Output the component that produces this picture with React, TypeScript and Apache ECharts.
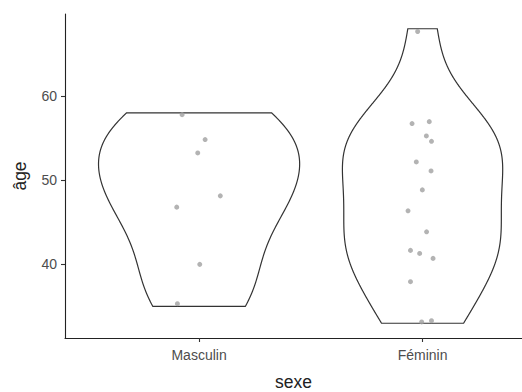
import React, { useEffect, useRef } from "react";
import * as echarts from "echarts";

// Categories
const categories = ["Masculin", "Féminin"];

// Ages (integer values) per group
const ageMasculin = [58, 55, 53, 48, 47, 40, 35];
const ageFeminin = [68, 57, 57, 55, 55, 52, 51, 49, 46, 44, 42, 41, 41, 38, 33, 33];

// Jitter offsets (x in category units, y in years)
const jitterXMasculin = [-0.076, 0.027, -0.006, 0.095, -0.1, 0.003, -0.097];
const jitterYMasculin = [-0.21, -0.17, 0.24, 0.14, -0.2, 0.0, 0.33];
const jitterXFeminin = [-0.022, -0.047, 0.03, 0.017, 0.04, -0.028, 0.038, -0.001, -0.065, 0.018, -0.054, -0.013, 0.047, -0.054, -0.004, 0.04];
const jitterYFeminin = [-0.33, -0.27, -0.04, 0.26, -0.38, 0.17, 0.1, -0.15, 0.36, -0.13, -0.34, 0.3, -0.29, -0.06, 0.16, 0.31];

// Y tick values
const yTicks = [40, 50, 60];

const groups = [ageMasculin, ageFeminin];
const jitterX = [jitterXMasculin, jitterXFeminin];
const jitterY = [jitterYMasculin, jitterYFeminin];

function quantile7(sorted: number[], p: number) {
  const h = (sorted.length - 1) * p;
  const lo = Math.floor(h);
  const hi = Math.ceil(h);
  return sorted[lo] + (h - lo) * (sorted[hi] - sorted[lo]);
}

function bwNrd0(x: number[]) {
  const n = x.length;
  const mean = x.reduce((a, b) => a + b, 0) / n;
  const sd = Math.sqrt(x.reduce((a, b) => a + (b - mean) ** 2, 0) / (n - 1));
  const s = [...x].sort((a, b) => a - b);
  const iqr = quantile7(s, 0.75) - quantile7(s, 0.25);
  let lo = Math.min(sd, iqr / 1.34);
  if (!(lo > 0)) lo = sd || Math.abs(s[0]) || 1;
  return 0.9 * lo * Math.pow(n, -0.2);
}

function kde(x: number[]) {
  const bw = bwNrd0(x);
  const min = Math.min(...x);
  const max = Math.max(...x);
  const N = 512;
  const out: { y: number; d: number }[] = [];
  for (let i = 0; i < N; i++) {
    const y = min + ((max - min) * i) / (N - 1);
    let s = 0;
    for (const v of x) {
      const z = (y - v) / bw;
      s += Math.exp(-0.5 * z * z);
    }
    out.push({ y, d: s / (x.length * bw * Math.sqrt(2 * Math.PI)) });
  }
  return out;
}

const densities = groups.map(kde);
const maxDensity = Math.max(...densities.flatMap((g) => g.map((p) => p.d)));

export default function App() {
  const ref = useRef<HTMLDivElement>(null);
  useEffect(() => {
    if (!ref.current) return;
    const chart = echarts.init(ref.current, undefined, { renderer: "svg" });
    const font = "Liberation Sans, Arial, sans-serif";

    const scatterData: number[][] = [];
    groups.forEach((g, gi) => {
      g.forEach((v, i) => {
        scatterData.push([gi + 1 + jitterX[gi][i], v + jitterY[gi][i]]);
      });
    });

    chart.setOption({
      animation: false,
      grid: {
        left: 65,
        top: 14,
        bottom: 54,
        right: 0,
        containLabel: false,
        outerBoundsMode: "none",
      },
      xAxis: {
        type: "value",
        min: 0.4,
        max: 2.445,
        name: "sexe",
        nameLocation: "middle",
        nameGap: 35,
        nameTextStyle: { fontFamily: font, fontSize: 17.5, color: "#222" },
        splitLine: { show: false },
        axisLine: { show: true, lineStyle: { color: "#222", width: 1.1 } },
        axisTick: { show: true, length: 4, lineStyle: { color: "#333", width: 1.1 }, customValues: [1, 2] },
        axisLabel: {
          customValues: [1, 2],
          formatter: (v: number) => categories[Math.round(v) - 1] ?? "",
          fontFamily: font,
          fontSize: 14,
          color: "#4d4d4d",
          margin: 10,
        },
      },
      yAxis: {
        type: "value",
        min: 31.25,
        max: 69.75,
        name: "âge",
        nameLocation: "middle",
        nameGap: 36,
        nameTextStyle: { fontFamily: font, fontSize: 17.5, color: "#222" },
        splitLine: { show: false },
        axisLine: { show: true, lineStyle: { color: "#222", width: 1.1 } },
        axisTick: { show: true, length: 4, lineStyle: { color: "#333", width: 1.1 }, customValues: yTicks },
        axisLabel: {
          customValues: yTicks,
          fontFamily: font,
          fontSize: 14,
          color: "#4d4d4d",
          margin: 8,
        },
      },
      series: [
        {
          type: "custom",
          z: 1,
          clip: false,
          data: groups.map((g, gi) => [gi + 1, Math.min(...g)]),
          renderItem: (params: any, api: any) => {
            const gi = params.dataIndex;
            const dens = densities[gi];
            const cx = gi + 1;
            const left = dens.map((p) => api.coord([cx - (p.d / maxDensity) * 0.45, p.y]));
            const right = dens
              .slice()
              .reverse()
              .map((p) => api.coord([cx + (p.d / maxDensity) * 0.45, p.y]));
            return {
              type: "polygon",
              shape: { points: left.concat(right) },
              style: { fill: "#ffffff", stroke: "#333333", lineWidth: 1.2 },
            };
          },
        },
        {
          type: "scatter",
          z: 2,
          symbolSize: 5,
          itemStyle: { color: "#a0a0a0" },
          data: scatterData,
        },
      ],
    });
    return () => chart.dispose();
  }, []);
  return (
    <div
      ref={ref}
      style={{ position: "absolute", left: 0, top: 0, width: 522, height: 392 }}
    />
  );
}
